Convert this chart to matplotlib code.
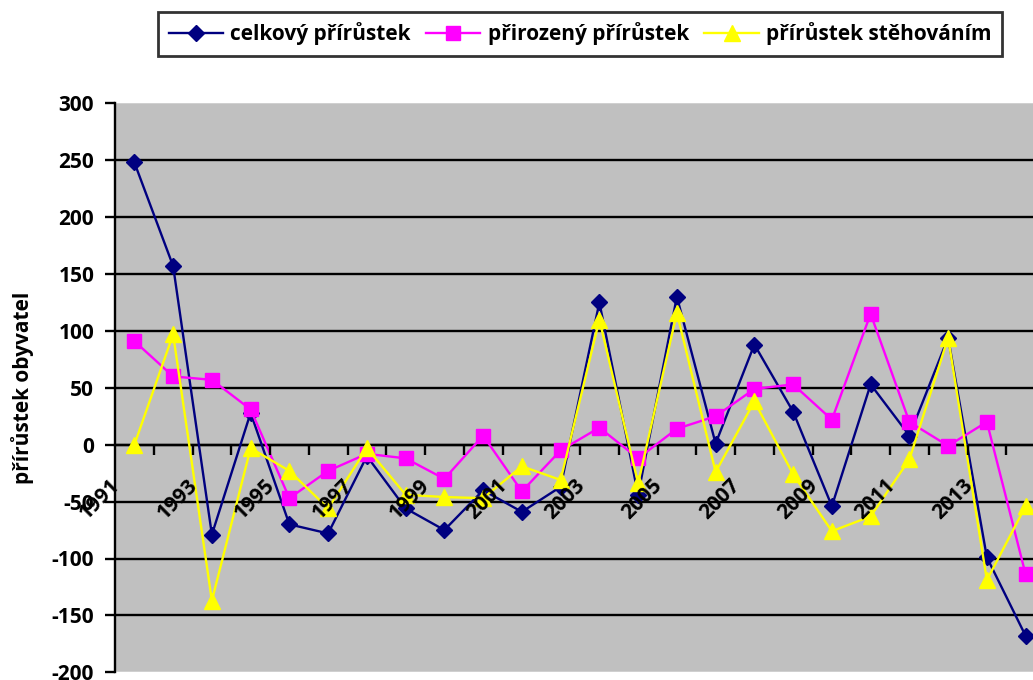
import matplotlib
matplotlib.use("Agg")
import matplotlib.pyplot as plt
from matplotlib.transforms import ScaledTranslation

years = [str(y) for y in range(1991, 2015)]
celkovy = [248, 157, -79, 28, -70, -78, -10, -56, -75, -40, -59, -37, 125, -44, 130, 1,
           88, 29, -54, 53, 8, 94, -99, -168]
prirozeny = [91, 60, 57, 31, -47, -23, -8, -12, -30, 8, -41, -5, 15, -12, 14, 25,
             49, 53, 22, 115, 20, -1, 20, -114]
stehovanim = [0, 97, -137, -3, -23, -56, -3, -44, -46, -47, -19, -31, 110, -34, 116, -24,
              38, -26, -76, -63, -13, 94, -119, -54]
series_names = ["celkový přírůstek", "přirozený přírůstek", "přírůstek stěhováním"]
y_ticks = [-200, -150, -100, -50, 0, 50, 100, 150, 200, 250, 300]
ylabel = "přírůstek obyvatel"

FONT = ['Open Sans', 'DejaVu Sans']
plt.rcParams['font.family'] = FONT
plt.rcParams['font.weight'] = 'bold'
FS = 15

fig = plt.figure(figsize=(10.33, 6.8), dpi=100)
ax = fig.add_axes([115/1033, 7.7/680, (1045-115)/1033, (672.3-103.3)/680])
ax.set_facecolor('#C0C0C0')

x = list(range(len(years)))
ax.set_xlim(-0.5, len(years) - 0.5)
ax.set_ylim(-200, 300)

for v in y_ticks[1:-1]:
    ax.axhline(v, color='black', lw=1.7, zorder=1)
ax.axhline(300, color='#D0D0D0', lw=1.5, zorder=1)
ax.axhline(-200, color='#D0D0D0', lw=1.5, zorder=1)

ax.plot(x, celkovy, color='#000080', lw=1.7, marker='D', markersize=7.8,
        markerfacecolor='#000080', markeredgecolor='#000080', label=series_names[0], zorder=3)
ax.plot(x, prirozeny, color='#FF00FF', lw=1.7, marker='s', markersize=10.5,
        markerfacecolor='#FF00FF', markeredgecolor='#FF00FF', label=series_names[1], zorder=3)
ax.plot(x, stehovanim, color='#FFFF00', lw=1.7, marker='^', markersize=11,
        markerfacecolor='#FFFF00', markeredgecolor='#FFFF00', label=series_names[2], zorder=3)

for s in ['top', 'right']:
    ax.spines[s].set_visible(False)
ax.spines['left'].set_linewidth(1.7)
ax.spines['left'].set_color('black')
ax.spines['bottom'].set_position(('data', 0))
ax.spines['bottom'].set_linewidth(1.7)
ax.spines['bottom'].set_color('black')

ax.set_yticks(y_ticks)
ax.set_yticklabels([str(v) for v in y_ticks], fontsize=FS, fontweight='bold')
ax.tick_params(axis='y', length=7, width=1.7, direction='out', pad=8)

ax.set_xticks(x[::2])
ax.set_xticklabels(years[::2], fontsize=FS, fontweight='bold', rotation=45,
                   ha='right', va='top')
ax.set_xticks([i + 0.5 for i in x[:-1]], minor=True)
ax.tick_params(axis='x', which='major', length=0, pad=22)
ax.tick_params(axis='x', which='minor', length=7, width=1.7, direction='out')
off = ScaledTranslation(-10/100, 0, fig.dpi_scale_trans)
for lbl in ax.get_xticklabels():
    lbl.set_transform(lbl.get_transform() + off)
ax.xaxis.set_zorder(5)

fig.text(23/1033, 1 - 388/680, ylabel, rotation=90, fontsize=FS, fontweight='bold',
         ha='center', va='center')

leg = fig.legend(loc='center', bbox_to_anchor=(580/1033, 1 - 34/680), ncol=3,
                 frameon=True, fancybox=False, fontsize=FS, handlelength=2.6,
                 columnspacing=0.75, handletextpad=0.35, borderpad=0.5)
leg.get_frame().set_edgecolor('black')
leg.get_frame().set_linewidth(2)
for t in leg.get_texts():
    t.set_fontweight('bold')

fig.savefig('out.png', dpi=100)
